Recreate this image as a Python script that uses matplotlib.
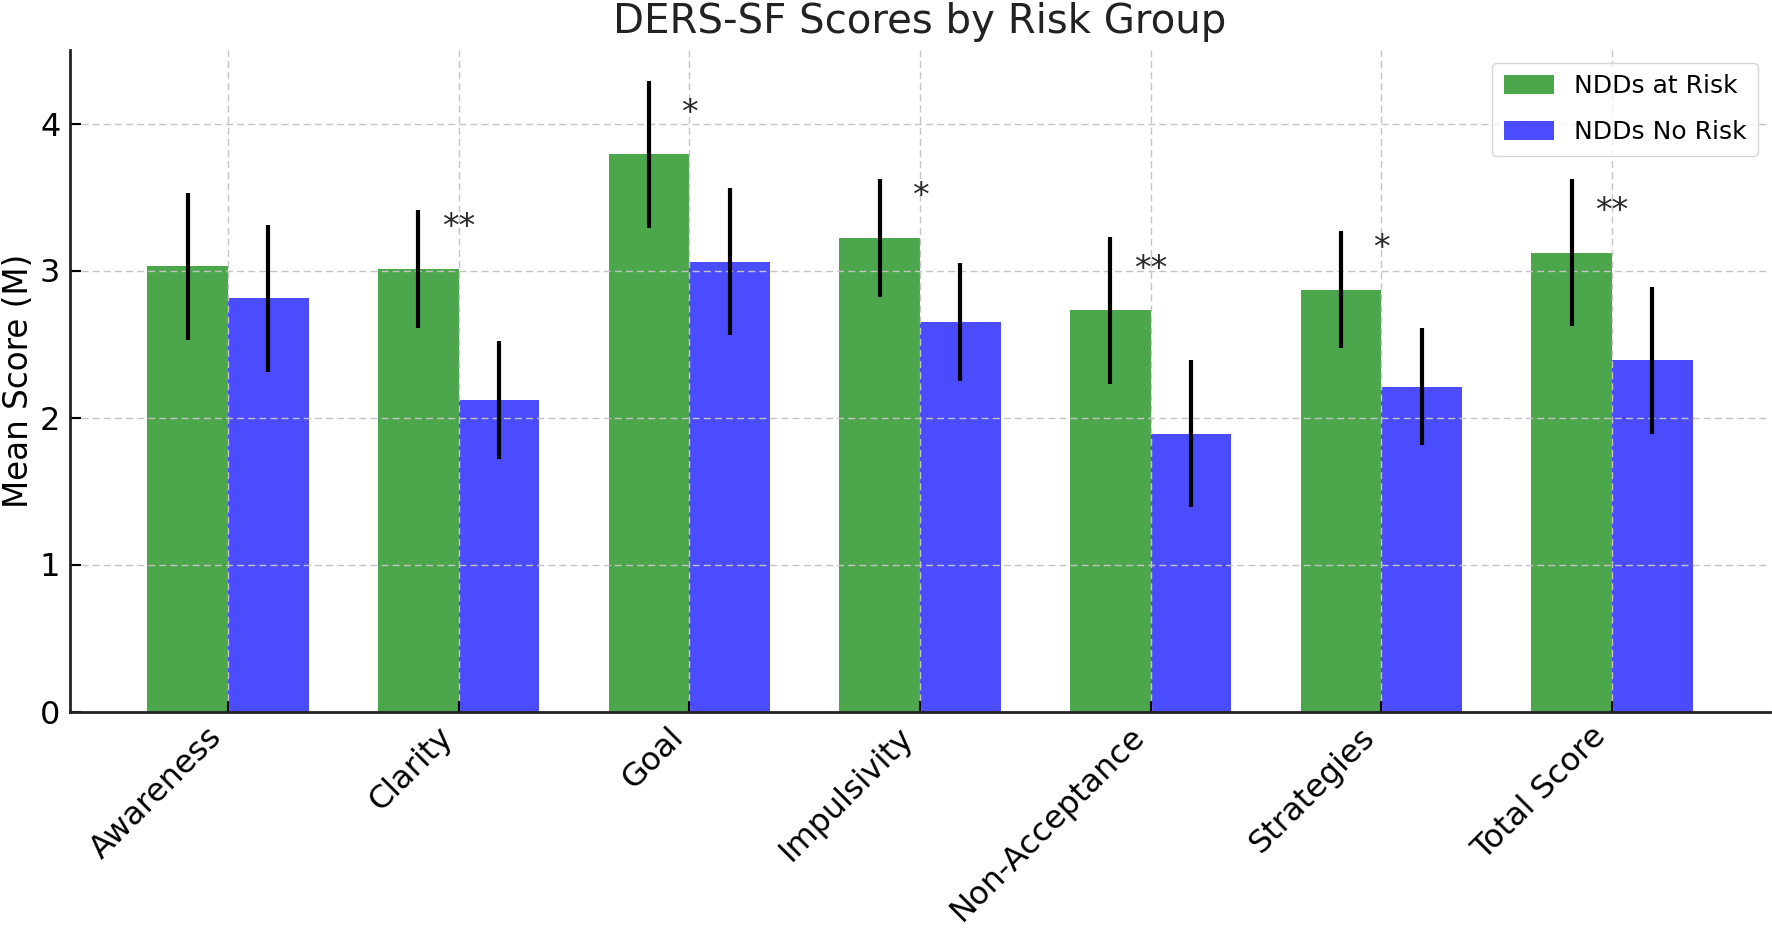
import numpy as np
import matplotlib
matplotlib.use("Agg")
import matplotlib.pyplot as plt

# DERS-SF subscales, means and error bars per group
categories = ["Awareness", "Clarity", "Goal", "Impulsivity",
              "Non-Acceptance", "Strategies", "Total Score"]
at_risk_mean = [3.03, 3.01, 3.79, 3.22, 2.73, 2.87, 3.12]
at_risk_err = [0.5, 0.4, 0.5, 0.4, 0.5, 0.4, 0.5]
no_risk_mean = [2.81, 2.12, 3.06, 2.65, 1.89, 2.21, 2.39]
no_risk_err = [0.5, 0.4, 0.5, 0.4, 0.5, 0.4, 0.5]
significance = ["", "**", "*", "*", "**", "*", "**"]

W, H, DPI = 1772, 934, 100
fig = plt.figure(figsize=(W / DPI, H / DPI), dpi=DPI)
ax = fig.add_axes([70 / W, (H - 711.5) / H, 1700 / W, 661.5 / H])

x = np.arange(len(categories))
w = 0.35
ax.bar(x - w / 2, at_risk_mean, w, yerr=at_risk_err, color="green", alpha=0.7,
       label="NDDs at Risk", error_kw=dict(ecolor="black", elinewidth=3, capsize=0))
ax.bar(x + w / 2, no_risk_mean, w, yerr=no_risk_err, color="blue", alpha=0.7,
       label="NDDs No Risk", error_kw=dict(ecolor="black", elinewidth=3, capsize=0))

# significance marks above each pair
for xi, m, s in zip(x, at_risk_mean, significance):
    if s:
        ax.text(xi, m + 0.28, s, ha="center", va="center", fontsize=24, color="#2a2a2a")

ax.set_xticks(x)
ax.set_xticklabels(categories, rotation=45, ha="right", fontsize=23)
ax.set_ylim(0, 4.5)
ax.set_yticks([0, 1, 2, 3, 4])
ax.tick_params(axis="y", labelsize=23)
ax.tick_params(direction="in", length=8, width=1.5, pad=7)
ax.set_ylabel("Mean Score (M)", fontsize=23.5)
ax.yaxis.set_label_coords(-35 / 1700, 0.5)
ax.set_title("DERS-SF Scores by Risk Group", fontsize=29, pad=12, color="#222222")

ax.grid(True, linestyle=(0, (5, 3)), linewidth=1.0, color="#c4c4c4")
for sp in ("top", "right"):
    ax.spines[sp].set_visible(False)
for sp in ("left", "bottom"):
    ax.spines[sp].set_linewidth(2)
    ax.spines[sp].set_color("#222222")

ax.legend(loc="upper right", fontsize=18, labelspacing=0.9, borderpad=0.45,
          handleheight=0.8)

fig.savefig("out.png", dpi=DPI)
